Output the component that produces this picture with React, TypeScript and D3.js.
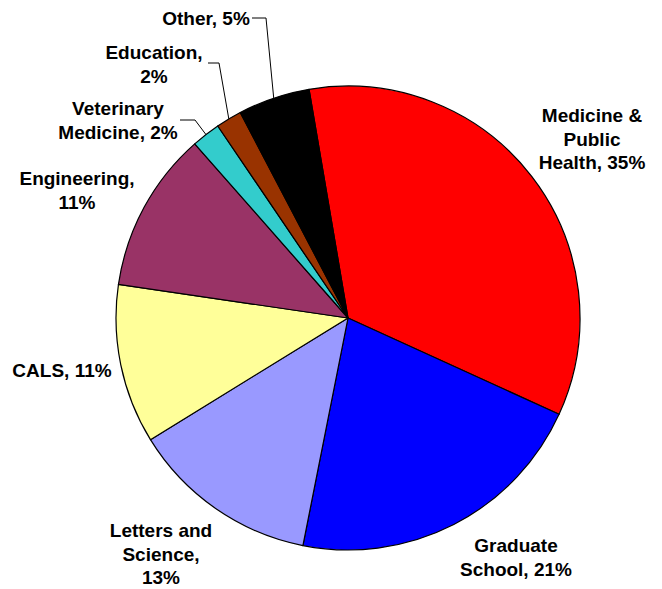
import React from "react";
import * as d3 from "d3";

const categories = [
  "Medicine & Public Health",
  "Graduate School",
  "Letters and Science",
  "CALS",
  "Engineering",
  "Veterinary Medicine",
  "Education",
  "Other",
];
const values = [34.5, 21.3, 13.1, 11.1, 11.2, 2.0, 1.8, 5.0];
const percentLabels = ["35%", "21%", "13%", "11%", "11%", "2%", "2%", "5%"];
const labelLines = [
  ["Medicine &", "Public", "Health, 35%"],
  ["Graduate", "School, 21%"],
  ["Letters and", "Science,", "13%"],
  ["CALS, 11%"],
  ["Engineering,", "11%"],
  ["Veterinary", "Medicine, 2%"],
  ["Education,", "2%"],
  ["Other, 5%"],
];
const colors = ["#FF0000", "#0000FF", "#9999FF", "#FFFF99", "#993366", "#33CCCC", "#993300", "#000000"];

// label layout: anchor x, first baseline y, text-anchor, leader elbow (optional)
const labelLayout: { x: number; y: number; anchor: string; leader?: [number, number, number] }[] = [
  { x: 592, y: 122, anchor: "middle" },
  { x: 516, y: 552, anchor: "middle" },
  { x: 161, y: 537, anchor: "middle" },
  { x: 62, y: 377, anchor: "middle" },
  { x: 77, y: 185, anchor: "middle" },
  { x: 118, y: 115, anchor: "middle", leader: [180, 195, 120] },
  { x: 154, y: 59, anchor: "middle", leader: [208, 219, 63] },
  { x: 206, y: 25, anchor: "middle", leader: [252, 266, 18] },
];

const W = 662;
const H = 589;
const cx = 348;
const cy = 318;
const R = 232;
const startDeg = -9.67;
const lineH = 23.5;

export default function App() {
  const data = categories.map((c, i) => ({ c, v: values[i], i }));
  const pie = d3
    .pie<any>()
    .value((d) => d.v)
    .sort(null)
    .startAngle((startDeg * Math.PI) / 180)
    .endAngle((startDeg * Math.PI) / 180 + 2 * Math.PI);
  const arcs = pie(data);
  const arc = d3.arc<any>().innerRadius(0).outerRadius(R);

  return (
    <svg
      width={W}
      height={H}
      style={{ position: "absolute", left: 0, top: 0, background: "#fff" }}
      fontFamily="'Liberation Sans', Arial, sans-serif"
    >
      <g transform={`translate(${cx},${cy})`}>
        {arcs.map((a, i) => (
          <path key={i} d={arc(a) || ""} fill={colors[i]} stroke="#000" strokeWidth={1.2} strokeLinejoin="round" />
        ))}
      </g>
      {arcs.map((a, i) => {
        const L = labelLayout[i];
        if (!L.leader) return null;
        const mid = (a.startAngle + a.endAngle) / 2;
        const ex = cx + R * Math.sin(mid);
        const ey = cy - R * Math.cos(mid);
        const [x0, x1, yl] = L.leader;
        return (
          <polyline
            key={"l" + i}
            points={`${x0},${yl} ${x1},${yl} ${ex},${ey}`}
            fill="none"
            stroke="#000"
            strokeWidth={1}
          />
        );
      })}
      {labelLines.map((lines, i) => {
        const L = labelLayout[i];
        return (
          <text key={"t" + i} fontSize={19} fontWeight="bold" fill="#000" textAnchor={L.anchor}>
            {lines.map((ln, j) => (
              <tspan key={j} x={L.x} y={L.y + j * lineH}>
                {ln}
              </tspan>
            ))}
          </text>
        );
      })}
    </svg>
  );
}
